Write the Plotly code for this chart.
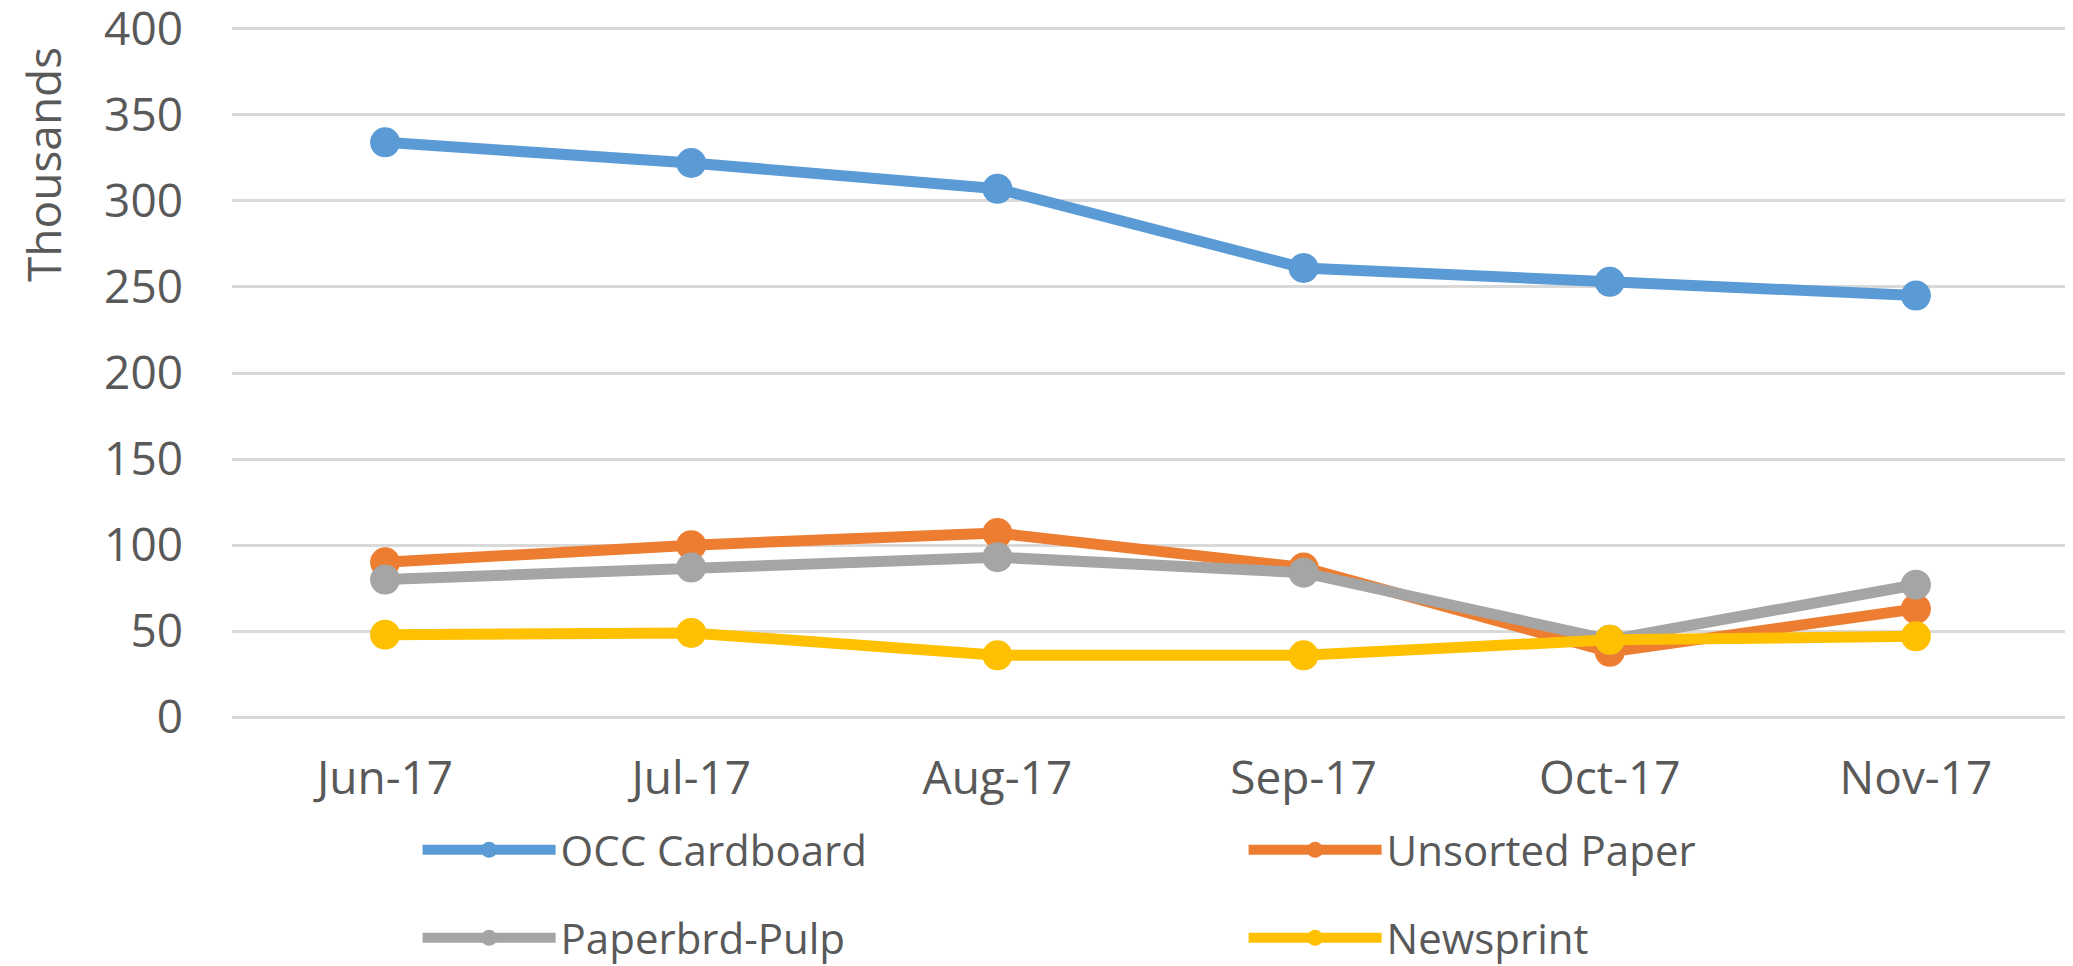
import plotly.graph_objects as go

months = ["Jun-17", "Jul-17", "Aug-17", "Sep-17", "Oct-17", "Nov-17"]
occ_cardboard = [334, 322, 307, 261, 253, 245]
unsorted_paper = [90, 100, 107, 87, 38, 63]
paperbrd_pulp = [80, 87, 93, 84, 45, 77]
newsprint = [48, 49, 36, 36, 45, 47]

series = [
    ("OCC Cardboard", occ_cardboard, "#5B9BD5", "legend"),
    ("Unsorted Paper", unsorted_paper, "#ED7D31", "legend"),
    ("Paperbrd-Pulp", paperbrd_pulp, "#A5A5A5", "legend2"),
    ("Newsprint", newsprint, "#FFC000", "legend2"),
]

font = "Open Sans"
W, H = 2065, 958  # page body adds an 8px margin

fig = go.Figure()
for name, vals, col, leg in series:
    fig.add_trace(go.Scatter(x=months, y=vals, name=name, mode="lines+markers",
                             line=dict(color=col, width=11),
                             marker=dict(color=col, size=30),
                             legend=leg))

# two one-row legends so the rows sit where the reference puts them
legend_style = dict(orientation="h", xref="container", yref="container",
                    xanchor="left", yanchor="middle", x=409.6 / W,
                    font=dict(family=font, size=42, color="#595959"),
                    itemwidth=133, entrywidth=678, entrywidthmode="pixels",
                    bgcolor="rgba(0,0,0,0)", traceorder="normal")

fig.update_layout(
    template="none",
    width=W, height=H,
    margin=dict(l=224, r=4, t=19, b=247, autoexpand=False),
    plot_bgcolor="white", paper_bgcolor="white",
    font=dict(family=font, color="#595959"),
    showlegend=True,
    legend=dict(legend_style, y=1 - 842 / H),
    legend2=dict(legend_style, y=1 - 930 / H),
    xaxis=dict(range=[-0.5, 5.5], showgrid=False, showline=False, zeroline=False,
               automargin=False, tickfont=dict(size=46, color="#595959"), ticks="",
               ticklabelstandoff=28),
    yaxis=dict(range=[-1, 401], tickvals=[0, 50, 100, 150, 200, 250, 300, 350, 400],
               showgrid=True, gridcolor="#D9D9D9", gridwidth=3, zeroline=False,
               showline=False, ticks="", automargin=False, ticklabeloverflow="allow",
               tickfont=dict(size=46, color="#595959"), ticklabelstandoff=48),
    annotations=[dict(text="Thousands", textangle=-90, xref="paper", yref="paper",
                      x=(43 - 232) / 1837, y=(719 - 165) / 692, showarrow=False,
                      xanchor="center", yanchor="middle",
                      font=dict(family=font, size=46, color="#595959"))],
)

fig.write_html("out.html")
